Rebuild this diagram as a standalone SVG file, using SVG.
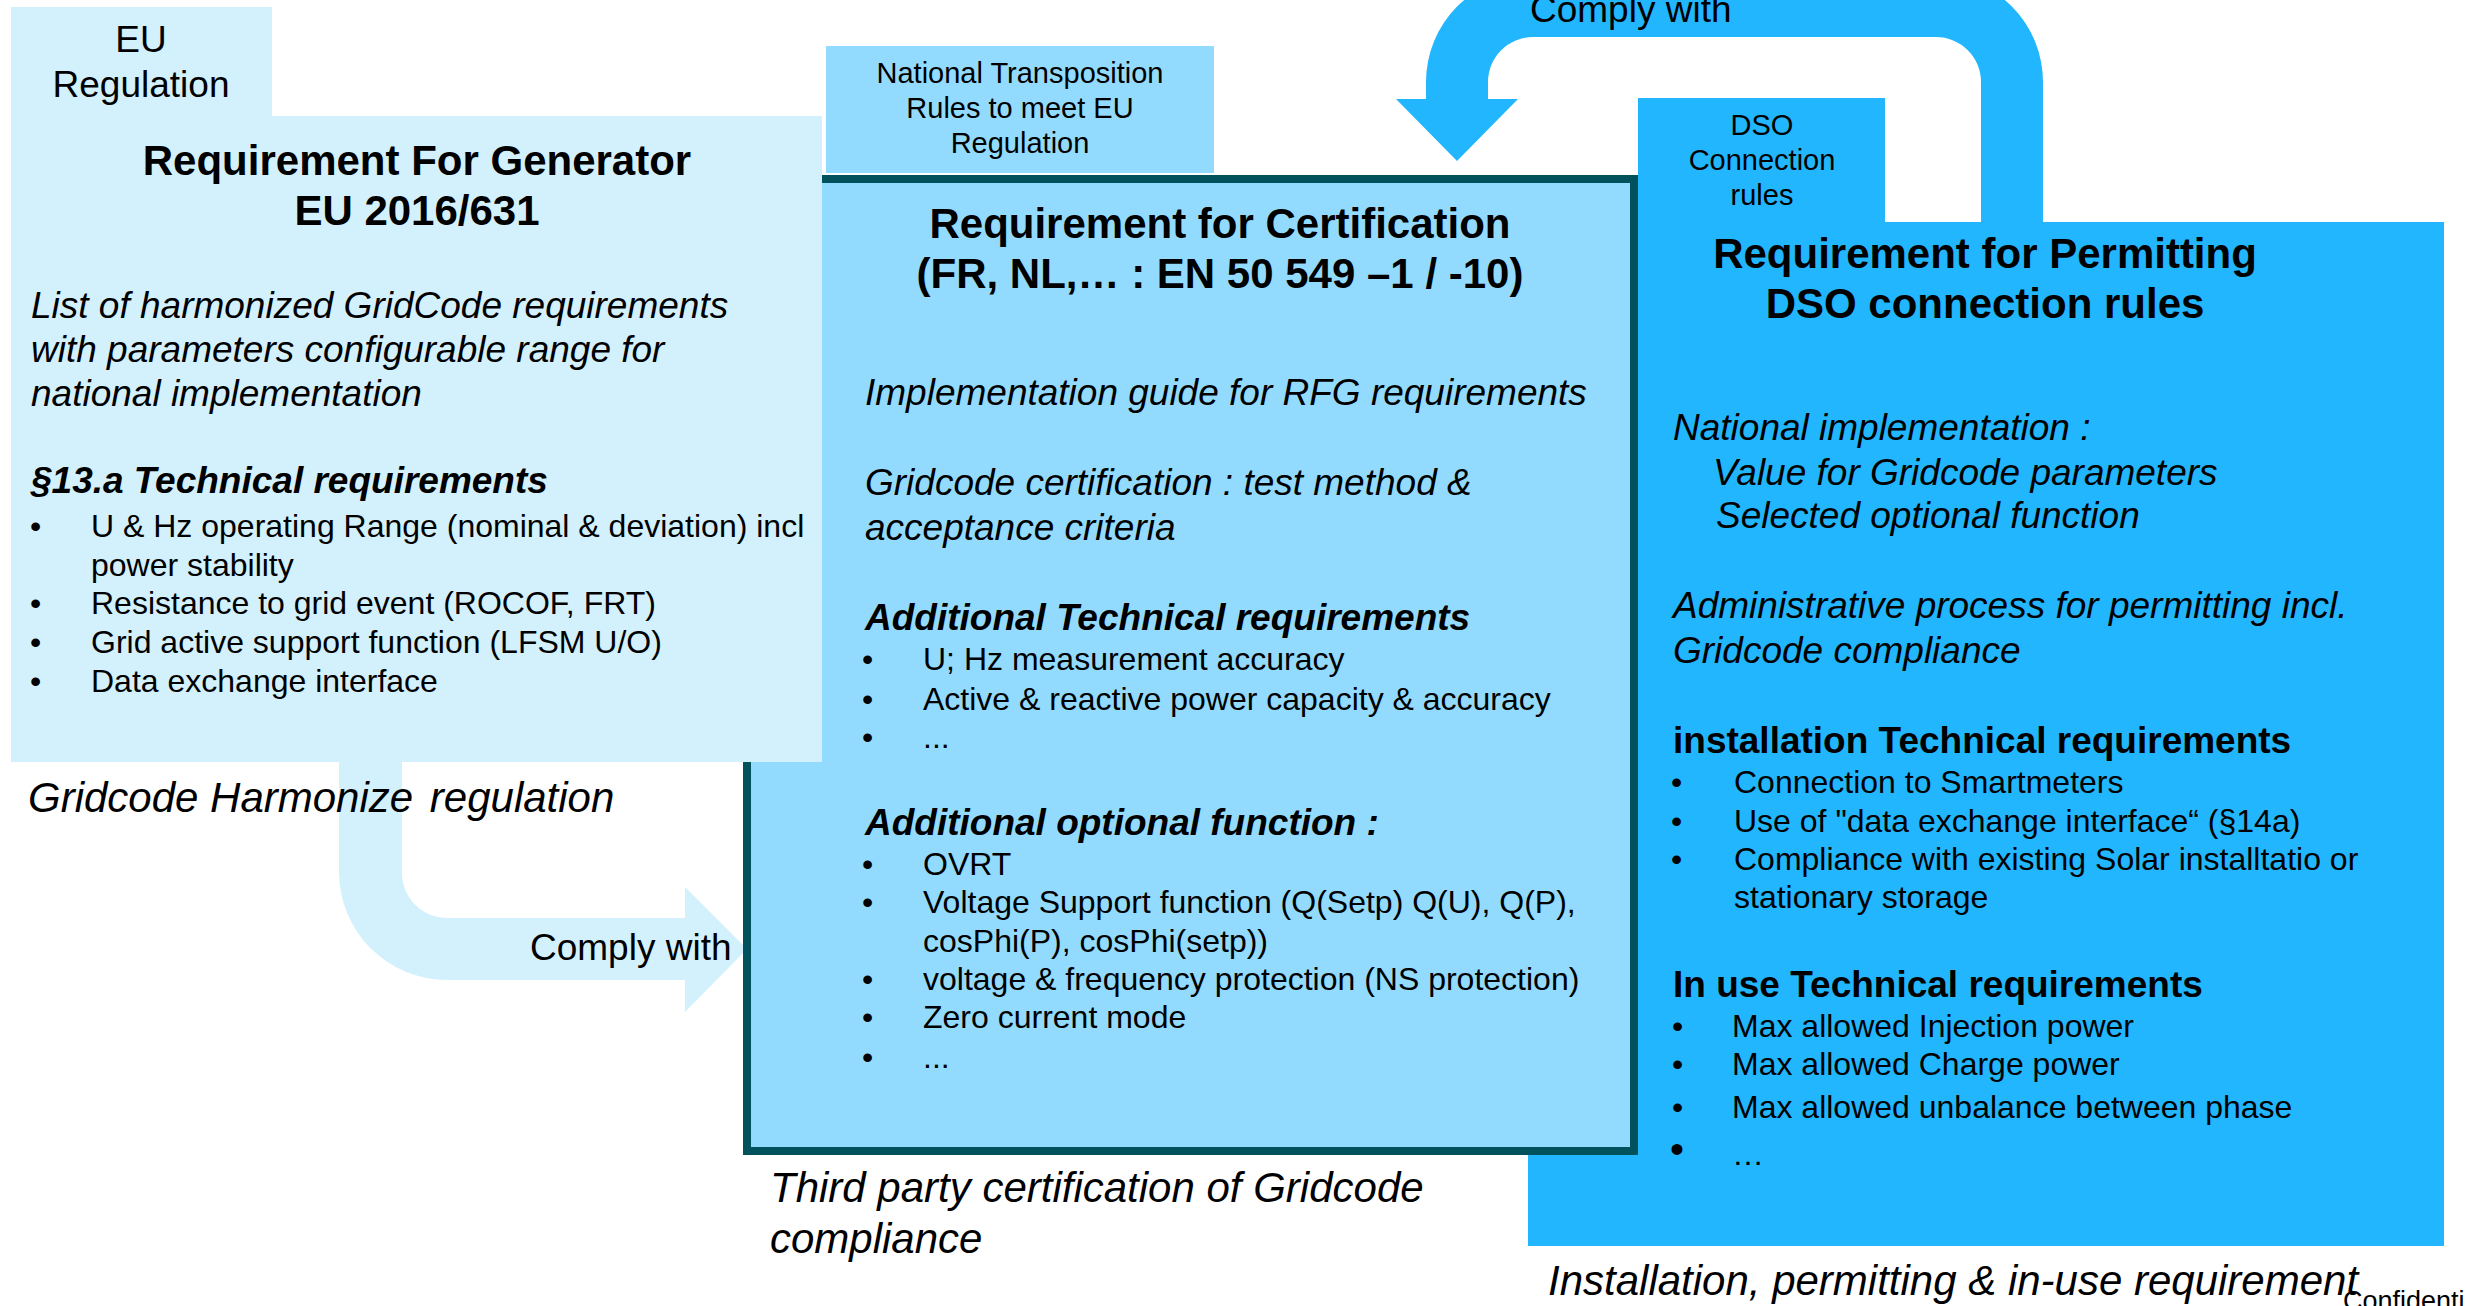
<svg xmlns="http://www.w3.org/2000/svg" width="2465" height="1306" viewBox="0 0 2465 1306">
  <style>
    text { font-family: "Liberation Sans", Arial, sans-serif; fill: #000; }
    .title { font-size: 42px; font-weight: bold; text-anchor: middle; }
    .body { font-size: 37px; font-style: italic; }
    .sub { font-size: 37px; font-style: italic; font-weight: bold; }
    .subn { font-size: 37px; font-weight: bold; }
    .bul { font-size: 32px; }
    .tab { font-size: 29px; text-anchor: middle; }
    .tabl { font-size: 37px; text-anchor: middle; }
    .cap { font-size: 42px; font-style: italic; }
    .lbl { font-size: 37px; }
    .small { font-size: 27px; }
    .fill-light { fill: #D3F0FD; }
    .fill-mid { fill: #93DBFE; }
    .fill-bright { fill: #21B6FE; }
    .frame { fill: #93DBFE; stroke: #02525D; stroke-width: 8; }
  </style>

  <!-- connectors -->
  <g id="connectors">
    <!-- RfG -> certification, bent light arrow -->
    <path id="arrow-rfg-cert" class="fill-light" d="M339,750 L339,872 A108,108 0 0 0 447,980 L685,980 L685,1012 L747,949 L685,887 L685,918 L447,918 A45,45 0 0 1 402,873 L402,750 Z"/>
    <text class="lbl" x="530" y="960">Comply with</text>
    <!-- permitting -> certification, curved arrow over the top -->
    <path id="arrow-dso-cert" class="fill-bright" d="M2043,222 L2043,82 A107,107 0 0 0 1936,-25 L1533,-25 A107,107 0 0 0 1426,82 L1426,99 L1396,99 L1457,161 L1518,99 L1488,99 L1488,82 A45,45 0 0 1 1533,37 L1936,37 A45,45 0 0 1 1981,82 L1981,222 Z"/>
    <text class="lbl" x="1530" y="22">Comply with</text>
  </g>

  <!-- DSO permitting rules -->
  <g id="node-permitting">
    <rect class="fill-bright" x="1638" y="98" width="247" height="130"/>
    <rect class="fill-bright" x="1528" y="222" width="916" height="1024"/>
    <text class="tab" x="1762" y="135">DSO</text>
    <text class="tab" x="1762" y="170">Connection</text>
    <text class="tab" x="1762" y="205">rules</text>
    <text class="title" x="1985" y="268">Requirement for Permitting</text>
    <text class="title" x="1985" y="318">DSO connection rules</text>
    <text class="body" x="1673" y="440">National implementation :</text>
    <text class="body" x="1713" y="485">Value for Gridcode parameters</text>
    <text class="body" x="1716" y="528">Selected optional function</text>
    <text class="body" x="1673" y="618">Administrative process for permitting incl.</text>
    <text class="body" x="1673" y="663">Gridcode compliance</text>
    <text class="subn" x="1673" y="753">installation Technical requirements</text>
    <text class="bul" x="1671" y="793">•</text>
    <text class="bul" x="1734" y="793">Connection to Smartmeters</text>
    <text class="bul" x="1671" y="832">•</text>
    <text class="bul" x="1734" y="832">Use of "data exchange interface“ (§14a)</text>
    <text class="bul" x="1671" y="870">•</text>
    <text class="bul" x="1734" y="870">Compliance with existing Solar installtatio or</text>
    <text class="bul" x="1734" y="908">stationary storage</text>
    <text class="subn" x="1673" y="997">In use Technical requirements</text>
    <text class="bul" x="1672" y="1037">•</text>
    <text class="bul" x="1732" y="1037">Max allowed Injection power</text>
    <text class="bul" x="1672" y="1075">•</text>
    <text class="bul" x="1732" y="1075">Max allowed Charge power</text>
    <text class="bul" x="1672" y="1118">•</text>
    <text class="bul" x="1732" y="1118">Max allowed unbalance between phase</text>
    <text class="bul" x="1670" y="1163" style="font-size:40px">•</text>
    <text class="bul" x="1732" y="1165">…</text>
  </g>

  <!-- Certification requirements -->
  <g id="node-certification">
    <rect class="fill-mid" x="826" y="46" width="388" height="127"/>
    <text class="tab" x="1020" y="83">National Transposition</text>
    <text class="tab" x="1020" y="118">Rules to meet EU</text>
    <text class="tab" x="1020" y="153">Regulation</text>
    <rect class="frame" x="747" y="179" width="887" height="972"/>
    <text class="title" x="1220" y="238">Requirement for Certification</text>
    <text class="title" x="1220" y="288">(FR, NL,… : EN 50 549 –1 / -10)</text>
    <text class="body" x="865" y="405">Implementation guide for RFG requirements</text>
    <text class="body" x="865" y="495">Gridcode certification : test method &amp;</text>
    <text class="body" x="865" y="540">acceptance criteria</text>
    <text class="sub" x="865" y="630">Additional Technical requirements</text>
    <text class="bul" x="862" y="670">•</text>
    <text class="bul" x="923" y="670">U; Hz measurement accuracy</text>
    <text class="bul" x="862" y="710">•</text>
    <text class="bul" x="923" y="710">Active &amp; reactive power capacity &amp; accuracy</text>
    <text class="bul" x="862" y="748">•</text>
    <text class="bul" x="923" y="748">...</text>
    <text class="sub" x="865" y="835">Additional optional function :</text>
    <text class="bul" x="862" y="875">•</text>
    <text class="bul" x="923" y="875">OVRT</text>
    <text class="bul" x="862" y="913">•</text>
    <text class="bul" x="923" y="913">Voltage Support function (Q(Setp) Q(U), Q(P),</text>
    <text class="bul" x="923" y="952">cosPhi(P), cosPhi(setp))</text>
    <text class="bul" x="862" y="990">•</text>
    <text class="bul" x="923" y="990">voltage &amp; frequency protection (NS protection)</text>
    <text class="bul" x="862" y="1028">•</text>
    <text class="bul" x="923" y="1028">Zero current mode</text>
    <text class="bul" x="862" y="1068">•</text>
    <text class="bul" x="923" y="1068">...</text>
  </g>

  <!-- Requirement for Generator (EU regulation) -->
  <g id="node-rfg">
    <rect class="fill-light" x="11" y="7" width="261" height="112"/>
    <rect class="fill-light" x="11" y="116" width="811" height="646"/>
    <text class="tabl" x="141" y="52">EU</text>
    <text class="tabl" x="141" y="97">Regulation</text>
    <text class="title" x="417" y="175">Requirement For Generator</text>
    <text class="title" x="417" y="225">EU 2016/631</text>
    <text class="body" x="31" y="318">List of harmonized GridCode requirements</text>
    <text class="body" x="31" y="362">with parameters configurable range for</text>
    <text class="body" x="31" y="406">national implementation</text>
    <text class="sub" x="31" y="493">§13.a Technical requirements</text>
    <text class="bul" x="30" y="537">•</text>
    <text class="bul" x="91" y="537">U &amp; Hz operating Range (nominal &amp; deviation) incl</text>
    <text class="bul" x="91" y="576">power stability</text>
    <text class="bul" x="30" y="614">•</text>
    <text class="bul" x="91" y="614">Resistance to grid event (ROCOF, FRT)</text>
    <text class="bul" x="30" y="653">•</text>
    <text class="bul" x="91" y="653">Grid active support function (LFSM U/O)</text>
    <text class="bul" x="30" y="692">•</text>
    <text class="bul" x="91" y="692">Data exchange interface</text>
  </g>

  <!-- captions under each block -->
  <g id="captions">
    <text class="cap" x="28" y="812">Gridcode Harmonize <tspan dx="5">regulation</tspan></text>
    <text class="cap" x="770" y="1202">Third party certification of Gridcode</text>
    <text class="cap" x="770" y="1253">compliance</text>
    <text class="cap" x="1548" y="1295">Installation, permitting &amp; in-use requirement</text>
    <text class="small" x="2343" y="1310">Confidential</text>
  </g>
</svg>
